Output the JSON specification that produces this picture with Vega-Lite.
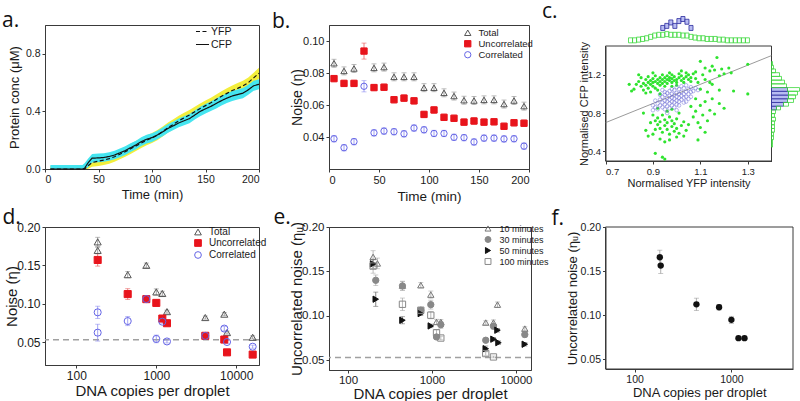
{
"$schema": "https://vega.github.io/schema/vega-lite/v6.json",
"background": "white",
"padding": {"left": 1, "top": 1, "right": 0, "bottom": 0},
"columns": 3,
"spacing": {"row": 58, "column": 70},
"bounds": "flush",
"align": "each",
"resolve": {"scale": {"color": "independent", "fill": "independent", "stroke": "independent", "shape": "independent", "strokeDash": "independent"}},
"config": {
 "font": "Liberation Sans",
 "view": {"stroke": "#3a3a3a", "strokeWidth": 1},
 "axis": {"grid": false, "domainColor": "#3a3a3a", "tickColor": "#3a3a3a", "labelColor": "#1a1a1a", "titleColor": "#1a1a1a", "titleFontWeight": "normal", "tickSize": 3, "labelPadding": 2, "labelFont": "Liberation Sans", "titleFont": "Liberation Sans", "labelOverlap": false},
 "legend": {"labelFont": "Liberation Sans", "labelColor": "#1a1a1a"},
 "title": {"font": "Open Sans", "fontWeight": "normal", "fontSize": 21, "anchor": "start", "frame": "group", "color": "#111", "offset": 0, "baseline": "alphabetic"}
},
"concat": [
{
 "width": 214, "height": 144,
 "title": {"text": "a.", "dx": -43, "dy": 10.5},
 "data": {"values": [
  {"t":5,"CFP":0,"YFP":0,"cLo":0,"cHi":0.028,"yLo":0,"yHi":0.02},
  {"t":10,"CFP":0,"YFP":0,"cLo":0,"cHi":0.028,"yLo":0,"yHi":0.02},
  {"t":20,"CFP":0,"YFP":0,"cLo":0,"cHi":0.028,"yLo":0,"yHi":0.02},
  {"t":30,"CFP":0,"YFP":0,"cLo":0,"cHi":0.028,"yLo":0,"yHi":0.02},
  {"t":35,"CFP":0,"YFP":0,"cLo":0,"cHi":0.028,"yLo":0,"yHi":0.02},
  {"t":37,"CFP":0.005,"YFP":0,"cLo":0,"cHi":0.04,"yLo":0,"yHi":0.03},
  {"t":40,"CFP":0.04,"YFP":0.02,"cLo":0.01,"cHi":0.07,"yLo":0,"yHi":0.055},
  {"t":44,"CFP":0.075,"YFP":0.045,"cLo":0.045,"cHi":0.105,"yLo":0.015,"yHi":0.08},
  {"t":50,"CFP":0.077,"YFP":0.055,"cLo":0.047,"cHi":0.107,"yLo":0.02,"yHi":0.09},
  {"t":55,"CFP":0.08,"YFP":0.062,"cLo":0.05,"cHi":0.11,"yLo":0.027,"yHi":0.097},
  {"t":60,"CFP":0.087,"YFP":0.072,"cLo":0.057,"cHi":0.117,"yLo":0.037,"yHi":0.107},
  {"t":65,"CFP":0.097,"YFP":0.085,"cLo":0.067,"cHi":0.127,"yLo":0.05,"yHi":0.12},
  {"t":70,"CFP":0.112,"YFP":0.103,"cLo":0.082,"cHi":0.142,"yLo":0.068,"yHi":0.138},
  {"t":75,"CFP":0.128,"YFP":0.12,"cLo":0.098,"cHi":0.158,"yLo":0.085,"yHi":0.155},
  {"t":80,"CFP":0.148,"YFP":0.14,"cLo":0.118,"cHi":0.178,"yLo":0.105,"yHi":0.175},
  {"t":85,"CFP":0.167,"YFP":0.16,"cLo":0.137,"cHi":0.197,"yLo":0.125,"yHi":0.195},
  {"t":90,"CFP":0.19,"YFP":0.18,"cLo":0.16,"cHi":0.22,"yLo":0.145,"yHi":0.215},
  {"t":95,"CFP":0.207,"YFP":0.2,"cLo":0.177,"cHi":0.237,"yLo":0.165,"yHi":0.235},
  {"t":100,"CFP":0.218,"YFP":0.215,"cLo":0.188,"cHi":0.248,"yLo":0.18,"yHi":0.25},
  {"t":105,"CFP":0.236,"YFP":0.235,"cLo":0.206,"cHi":0.266,"yLo":0.2,"yHi":0.27},
  {"t":110,"CFP":0.258,"YFP":0.26,"cLo":0.228,"cHi":0.288,"yLo":0.225,"yHi":0.295},
  {"t":115,"CFP":0.282,"YFP":0.288,"cLo":0.252,"cHi":0.312,"yLo":0.253,"yHi":0.323},
  {"t":120,"CFP":0.3,"YFP":0.31,"cLo":0.27,"cHi":0.33,"yLo":0.275,"yHi":0.345},
  {"t":125,"CFP":0.32,"YFP":0.335,"cLo":0.29,"cHi":0.35,"yLo":0.3,"yHi":0.37},
  {"t":130,"CFP":0.335,"YFP":0.355,"cLo":0.303,"cHi":0.367,"yLo":0.32,"yHi":0.39},
  {"t":135,"CFP":0.35,"YFP":0.375,"cLo":0.318,"cHi":0.382,"yLo":0.34,"yHi":0.41},
  {"t":140,"CFP":0.375,"YFP":0.398,"cLo":0.343,"cHi":0.407,"yLo":0.363,"yHi":0.433},
  {"t":145,"CFP":0.4,"YFP":0.42,"cLo":0.367,"cHi":0.433,"yLo":0.385,"yHi":0.455},
  {"t":150,"CFP":0.418,"YFP":0.44,"cLo":0.385,"cHi":0.451,"yLo":0.405,"yHi":0.475},
  {"t":155,"CFP":0.435,"YFP":0.46,"cLo":0.402,"cHi":0.468,"yLo":0.425,"yHi":0.495},
  {"t":160,"CFP":0.455,"YFP":0.483,"cLo":0.421,"cHi":0.489,"yLo":0.448,"yHi":0.518},
  {"t":165,"CFP":0.475,"YFP":0.505,"cLo":0.441,"cHi":0.509,"yLo":0.47,"yHi":0.54},
  {"t":170,"CFP":0.492,"YFP":0.525,"cLo":0.458,"cHi":0.526,"yLo":0.49,"yHi":0.56},
  {"t":175,"CFP":0.507,"YFP":0.545,"cLo":0.472,"cHi":0.542,"yLo":0.51,"yHi":0.58},
  {"t":180,"CFP":0.517,"YFP":0.56,"cLo":0.482,"cHi":0.552,"yLo":0.525,"yHi":0.597},
  {"t":185,"CFP":0.527,"YFP":0.577,"cLo":0.492,"cHi":0.562,"yLo":0.541,"yHi":0.613},
  {"t":190,"CFP":0.55,"YFP":0.6,"cLo":0.515,"cHi":0.585,"yLo":0.564,"yHi":0.636},
  {"t":195,"CFP":0.578,"YFP":0.633,"cLo":0.543,"cHi":0.613,"yLo":0.597,"yHi":0.669},
  {"t":200,"CFP":0.588,"YFP":0.665,"cLo":0.553,"cHi":0.623,"yLo":0.627,"yHi":0.703}
 ]},
 "encoding": {"x": {"field": "t", "type": "quantitative", "scale": {"domain": [0, 200]}, "axis": {"values": [0,50,100,150,200], "title": "Time (min)", "titleFontSize": 13, "labelFontSize": 10.5, "titlePadding": 4}}},
 "layer": [
  {"mark": {"type": "area", "color": "#f3ee3c"}, "encoding": {"y": {"field": "yLo", "type": "quantitative", "scale": {"domain": [0, 1]}, "axis": {"values": [0,0.2,0.4,0.6,0.8,1.0], "format": ".1f", "title": "Protein conc (μM)", "titleFontSize": 13, "labelFontSize": 10.5, "titlePadding": 3.5}}, "y2": {"field": "yHi"}}},
  {"mark": {"type": "area", "color": "#45e5f0"}, "encoding": {"y": {"field": "cLo", "type": "quantitative", "title": "Protein conc (μM)"}, "y2": {"field": "cHi"}}},
  {"transform": [{"fold": ["YFP", "CFP"], "as": ["series", "conc"]}],
   "mark": {"type": "line", "color": "#111", "strokeWidth": 1.2},
   "encoding": {"y": {"field": "conc", "type": "quantitative", "title": "Protein conc (μM)"},
    "strokeDash": {"field": "series", "type": "nominal", "scale": {"domain": ["YFP", "CFP"], "range": [[4, 2.5], [1, 0]]},
     "legend": {"orient": "none", "legendX": 150, "legendY": -1, "title": null, "symbolType": "stroke", "symbolSize": 170, "symbolStrokeColor": "#111", "symbolStrokeWidth": 1.2, "labelFontSize": 10.5, "rowPadding": 0, "labelOffset": 1}}}}
 ]
},
{
 "width": 200, "height": 144,
 "title": {"text": "b.", "dx": -57, "dy": 10.5},
 "data": {"values": [
  {"t":5,"s":"Total","v":0.0861,"lo":0.0836,"hi":0.0886},
  {"t":15,"s":"Total","v":0.0813,"lo":0.0788,"hi":0.0838},
  {"t":25,"s":"Total","v":0.0828,"lo":0.0803,"hi":0.0853},
  {"t":45,"s":"Total","v":0.0832,"lo":0.0807,"hi":0.0857},
  {"t":55,"s":"Total","v":0.0837,"lo":0.0812,"hi":0.0862},
  {"t":65,"s":"Total","v":0.0776,"lo":0.0751,"hi":0.0801},
  {"t":75,"s":"Total","v":0.0776,"lo":0.0751,"hi":0.0801},
  {"t":85,"s":"Total","v":0.0776,"lo":0.0751,"hi":0.0801},
  {"t":95,"s":"Total","v":0.0708,"lo":0.0683,"hi":0.0733},
  {"t":105,"s":"Total","v":0.0708,"lo":0.0683,"hi":0.0733},
  {"t":115,"s":"Total","v":0.0676,"lo":0.0651,"hi":0.0701},
  {"t":125,"s":"Total","v":0.0656,"lo":0.0631,"hi":0.0681},
  {"t":135,"s":"Total","v":0.063,"lo":0.0605,"hi":0.0655},
  {"t":145,"s":"Total","v":0.0628,"lo":0.0603,"hi":0.0653},
  {"t":155,"s":"Total","v":0.0632,"lo":0.0607,"hi":0.0657},
  {"t":165,"s":"Total","v":0.0632,"lo":0.0607,"hi":0.0657},
  {"t":175,"s":"Total","v":0.0606,"lo":0.0581,"hi":0.0631},
  {"t":185,"s":"Total","v":0.0628,"lo":0.0603,"hi":0.0653},
  {"t":195,"s":"Total","v":0.0593,"lo":0.0568,"hi":0.0618},
  {"t":5,"s":"Uncorrelated","v":0.0765,"lo":0.0745,"hi":0.0785},
  {"t":15,"s":"Uncorrelated","v":0.0735,"lo":0.0715,"hi":0.0755},
  {"t":25,"s":"Uncorrelated","v":0.0735,"lo":0.0715,"hi":0.0755},
  {"t":35,"s":"Uncorrelated","v":0.0937,"lo":0.0887,"hi":0.0987},
  {"t":45,"s":"Uncorrelated","v":0.0709,"lo":0.0689,"hi":0.0729},
  {"t":55,"s":"Uncorrelated","v":0.0711,"lo":0.0691,"hi":0.0731},
  {"t":65,"s":"Uncorrelated","v":0.0633,"lo":0.0613,"hi":0.0653},
  {"t":75,"s":"Uncorrelated","v":0.0643,"lo":0.0623,"hi":0.0663},
  {"t":85,"s":"Uncorrelated","v":0.0626,"lo":0.0606,"hi":0.0646},
  {"t":95,"s":"Uncorrelated","v":0.0541,"lo":0.0521,"hi":0.0561},
  {"t":105,"s":"Uncorrelated","v":0.0569,"lo":0.0549,"hi":0.0589},
  {"t":115,"s":"Uncorrelated","v":0.0523,"lo":0.0503,"hi":0.0543},
  {"t":125,"s":"Uncorrelated","v":0.0517,"lo":0.0497,"hi":0.0537},
  {"t":135,"s":"Uncorrelated","v":0.0493,"lo":0.0473,"hi":0.0513},
  {"t":145,"s":"Uncorrelated","v":0.05,"lo":0.048,"hi":0.052},
  {"t":155,"s":"Uncorrelated","v":0.0493,"lo":0.0473,"hi":0.0513},
  {"t":165,"s":"Uncorrelated","v":0.0495,"lo":0.0475,"hi":0.0515},
  {"t":175,"s":"Uncorrelated","v":0.0467,"lo":0.0447,"hi":0.0487},
  {"t":185,"s":"Uncorrelated","v":0.0489,"lo":0.0469,"hi":0.0509},
  {"t":195,"s":"Uncorrelated","v":0.0486,"lo":0.0466,"hi":0.0506},
  {"t":5,"s":"Correlated","v":0.0389,"lo":0.0369,"hi":0.0409},
  {"t":15,"s":"Correlated","v":0.0333,"lo":0.0313,"hi":0.0353},
  {"t":25,"s":"Correlated","v":0.0371,"lo":0.0351,"hi":0.0391},
  {"t":35,"s":"Correlated","v":0.0717,"lo":0.0682,"hi":0.0752},
  {"t":45,"s":"Correlated","v":0.0426,"lo":0.0406,"hi":0.0446},
  {"t":55,"s":"Correlated","v":0.0437,"lo":0.0417,"hi":0.0457},
  {"t":65,"s":"Correlated","v":0.0433,"lo":0.0413,"hi":0.0453},
  {"t":75,"s":"Correlated","v":0.042,"lo":0.04,"hi":0.044},
  {"t":85,"s":"Correlated","v":0.0456,"lo":0.0436,"hi":0.0476},
  {"t":95,"s":"Correlated","v":0.0445,"lo":0.0425,"hi":0.0465},
  {"t":105,"s":"Correlated","v":0.0422,"lo":0.0402,"hi":0.0442},
  {"t":115,"s":"Correlated","v":0.0422,"lo":0.0402,"hi":0.0442},
  {"t":125,"s":"Correlated","v":0.0398,"lo":0.0378,"hi":0.0418},
  {"t":135,"s":"Correlated","v":0.0396,"lo":0.0376,"hi":0.0416},
  {"t":145,"s":"Correlated","v":0.0369,"lo":0.0349,"hi":0.0389},
  {"t":155,"s":"Correlated","v":0.0393,"lo":0.0373,"hi":0.0413},
  {"t":165,"s":"Correlated","v":0.0393,"lo":0.0373,"hi":0.0413},
  {"t":175,"s":"Correlated","v":0.0388,"lo":0.0368,"hi":0.0408},
  {"t":185,"s":"Correlated","v":0.0389,"lo":0.0369,"hi":0.0409},
  {"t":195,"s":"Correlated","v":0.0343,"lo":0.0323,"hi":0.0363}
 ]},
 "encoding": {"x": {"field": "t", "type": "quantitative", "scale": {"domain": [0, 200]}, "axis": {"values": [0,50,100,150,200], "title": "Time (min)", "titleFontSize": 13.5, "labelFontSize": 11, "titlePadding": 4}}},
 "layer": [
  {"mark": {"type": "errorbar", "ticks": true, "thickness": 0.8},
   "encoding": {"y": {"field": "lo", "type": "quantitative", "scale": {"domain": [0.025, 0.105]}, "axis": {"values": [0.04, 0.06, 0.08, 0.10], "format": ".2f", "title": "Noise (η)", "titleFontSize": 14, "labelFontSize": 11, "titlePadding": -2}},
    "y2": {"field": "hi"},
    "color": {"field": "s", "type": "nominal", "scale": {"domain": ["Correlated", "Total", "Uncorrelated"], "range": ["#8c8cef", "#8a8a8a", "#e85a5a"]}, "legend": null}}},
  {"mark": {"type": "point", "size": 40, "strokeWidth": 1, "opacity": 1},
   "encoding": {"y": {"field": "v", "type": "quantitative", "title": "Noise (η)"},
    "shape": {"field": "s", "type": "nominal", "scale": {"domain": ["Total", "Uncorrelated", "Correlated"], "range": ["triangle-up", "square", "circle"]}, "legend": {"orient": "none", "legendX": 134, "legendY": 3, "title": null, "labelFontSize": 9.5, "symbolSize": 40, "rowPadding": 0, "labelOffset": 6, "symbolStrokeWidth": 1}},
    "stroke": {"field": "s", "type": "nominal", "scale": {"domain": ["Total", "Uncorrelated", "Correlated"], "range": ["#555555", "#e8141c", "#6565e6"]}, "legend": {"orient": "none", "legendX": 134, "legendY": 3, "title": null, "labelFontSize": 9.5, "symbolSize": 40, "rowPadding": 0, "labelOffset": 6, "symbolStrokeWidth": 1}},
    "fill": {"field": "s", "type": "nominal", "scale": {"domain": ["Total", "Uncorrelated", "Correlated"], "range": ["transparent", "#e8141c", "transparent"]}, "legend": {"orient": "none", "legendX": 134, "legendY": 3, "title": null, "labelFontSize": 9.5, "symbolSize": 40, "rowPadding": 0, "labelOffset": 6, "symbolStrokeWidth": 1}}}}
 ]
},
{
 "width": 170.5, "height": 136,
 "view": {"stroke": null},
 "title": {"text": "c.", "dx": -59, "dy": 10},
 "resolve": {"scale": {"x": "independent", "y": "independent"}},
 "layer": [
  {"layer": [
    {"data": {"values": [{"x0": 0.7, "x1": 1.4, "y0": 0.3, "y1": 1.5}]},
     "mark": {"type": "rect", "fillOpacity": 0, "stroke": "#3a3a3a", "strokeWidth": 1},
     "encoding": {"x": {"field": "x0", "type": "quantitative", "scale": {"domain": [0.7, 1.4], "range": [4.5, 170.5], "zero": false, "nice": false}, "axis": {"values": [0.7,0.8,0.9,1.0,1.1,1.2,1.3,1.4], "format": ".1f", "title": "Normalised YFP intensity", "titleFontSize": 11, "labelFontSize": 9.5, "labelOverlap": false, "titlePadding": 2}},
      "x2": {"field": "x1"},
      "y": {"field": "y0", "type": "quantitative", "scale": {"domain": [0.3, 1.5], "range": [136, 21], "zero": false, "nice": false}, "axis": {"values": [0.4,0.6,0.8,1.0,1.2,1.4], "format": ".1f", "offset": -4.5, "title": "Normalised CFP intensity", "titleFontSize": 11, "labelFontSize": 9.5, "titlePadding": -2, "labelOverlap": false}},
      "y2": {"field": "y1"}}},
    {"data": {"values": [{"x": 0.7, "y": 0.7}, {"x": 1.4, "y": 1.4}]},
     "mark": {"type": "line", "color": "#808080", "strokeWidth": 0.8},
     "encoding": {"x": {"field": "x", "type": "quantitative", "title": "Normalised YFP intensity"}, "y": {"field": "y", "type": "quantitative", "title": "Normalised CFP intensity"}}},
    {"data": {"values": [
      {"x":0.82,"y":1.05},{"x":0.83,"y":1.10},{"x":0.84,"y":1.13},{"x":0.85,"y":1.08},{"x":0.85,"y":1.17},{"x":0.86,"y":1.11},{"x":0.86,"y":1.04},{"x":0.87,"y":1.15},{"x":0.87,"y":1.09},{"x":0.88,"y":1.12},
      {"x":0.88,"y":1.18},{"x":0.88,"y":1.06},{"x":0.89,"y":1.14},{"x":0.89,"y":1.10},{"x":0.90,"y":1.16},{"x":0.90,"y":1.12},{"x":0.90,"y":1.08},{"x":0.91,"y":1.19},{"x":0.91,"y":1.13},{"x":0.91,"y":1.06},
      {"x":0.92,"y":1.15},{"x":0.92,"y":1.11},{"x":0.93,"y":1.17},{"x":0.93,"y":1.13},{"x":0.93,"y":1.09},{"x":0.94,"y":1.20},{"x":0.94,"y":1.15},{"x":0.94,"y":1.11},{"x":0.95,"y":1.13},{"x":0.95,"y":1.17},
      {"x":0.96,"y":1.15},{"x":0.96,"y":1.11},{"x":0.96,"y":1.19},{"x":0.97,"y":1.14},{"x":0.97,"y":1.17},{"x":0.98,"y":1.12},{"x":0.98,"y":1.16},{"x":0.98,"y":1.20},{"x":0.99,"y":1.14},{"x":0.99,"y":1.18},
      {"x":1.00,"y":1.15},{"x":1.00,"y":1.12},{"x":1.01,"y":1.17},{"x":1.01,"y":1.21},{"x":1.02,"y":1.14},{"x":1.02,"y":1.19},{"x":1.03,"y":1.16},{"x":1.03,"y":1.12},{"x":1.04,"y":1.18},{"x":1.04,"y":1.22},
      {"x":1.05,"y":1.15},{"x":1.05,"y":1.20},{"x":1.06,"y":1.17},{"x":1.06,"y":1.13},{"x":1.07,"y":1.21},{"x":1.08,"y":1.16},{"x":0.89,"y":1.02},{"x":0.87,"y":1.01},{"x":0.92,"y":1.04},{"x":0.84,"y":1.20},
      {"x":0.80,"y":1.10},{"x":0.81,"y":1.03},{"x":0.86,"y":0.80},{"x":0.95,"y":1.08},{"x":1.00,"y":1.09},{"x":0.97,"y":1.22},{"x":1.02,"y":1.24},{"x":0.90,"y":1.22},{"x":0.93,"y":1.00},{"x":0.98,"y":1.08},
      {"x":1.08,"y":1.23},{"x":1.09,"y":1.12},{"x":1.10,"y":1.34},{"x":1.10,"y":1.05},{"x":1.11,"y":1.20},{"x":1.12,"y":1.27},{"x":1.12,"y":1.15},{"x":1.13,"y":1.02},{"x":1.14,"y":1.24},{"x":1.15,"y":1.29},
      {"x":1.15,"y":1.10},{"x":1.16,"y":1.25},{"x":1.17,"y":1.38},{"x":1.18,"y":1.19},{"x":1.18,"y":1.04},{"x":1.19,"y":1.26},{"x":1.20,"y":1.21},{"x":1.22,"y":1.27},{"x":1.23,"y":1.22},{"x":1.24,"y":1.03},
      {"x":1.30,"y":1.00},{"x":1.30,"y":1.31},{"x":1.08,"y":0.95},{"x":1.10,"y":0.88},{"x":1.12,"y":0.92},{"x":1.14,"y":0.83},{"x":1.15,"y":0.95},{"x":1.16,"y":0.79},{"x":1.13,"y":0.72},{"x":1.11,"y":0.78},
      {"x":1.09,"y":0.70},{"x":1.10,"y":0.65},{"x":1.08,"y":0.82},{"x":1.06,"y":0.87},{"x":1.07,"y":0.76},{"x":1.05,"y":0.68},{"x":1.12,"y":0.60},{"x":1.09,"y":0.52},{"x":1.04,"y":0.62},{"x":1.18,"y":0.90},
      {"x":1.20,"y":0.85},{"x":1.14,"y":1.12},
      {"x":0.90,"y":0.78},{"x":0.91,"y":0.72},{"x":0.92,"y":0.68},{"x":0.92,"y":0.75},{"x":0.93,"y":0.64},{"x":0.93,"y":0.71},{"x":0.94,"y":0.78},{"x":0.94,"y":0.60},{"x":0.95,"y":0.67},{"x":0.95,"y":0.73},
      {"x":0.96,"y":0.70},{"x":0.96,"y":0.63},{"x":0.97,"y":0.76},{"x":0.97,"y":0.58},{"x":0.98,"y":0.66},{"x":0.98,"y":0.72},{"x":0.99,"y":0.61},{"x":0.99,"y":0.69},{"x":1.00,"y":0.64},{"x":1.00,"y":0.74},
      {"x":1.01,"y":0.59},{"x":1.02,"y":0.67},{"x":1.03,"y":0.71},{"x":1.03,"y":0.56},{"x":0.91,"y":0.63},{"x":0.89,"y":0.70},{"x":0.90,"y":0.58},{"x":0.88,"y":0.56},{"x":0.93,"y":0.53},{"x":0.95,"y":0.50},
      {"x":0.97,"y":0.52},{"x":1.00,"y":0.55},{"x":0.96,"y":0.82},{"x":0.98,"y":0.84},{"x":1.01,"y":0.80},{"x":0.91,"y":0.38},{"x":0.94,"y":0.34},{"x":0.95,"y":0.32},{"x":0.87,"y":0.62},{"x":0.92,"y":0.85}
     ]},
     "mark": {"type": "circle", "size": 10, "color": "#2fe32f", "opacity": 1},
     "encoding": {"x": {"field": "x", "type": "quantitative", "title": "Normalised YFP intensity"}, "y": {"field": "y", "type": "quantitative", "title": "Normalised CFP intensity"}}},
    {"data": {"values": [
      {"x":0.90,"y":0.83},{"x":0.91,"y":0.86},{"x":0.92,"y":0.84},{"x":0.92,"y":0.90},{"x":0.93,"y":0.88},{"x":0.93,"y":0.94},{"x":0.94,"y":0.86},{"x":0.94,"y":0.91},{"x":0.94,"y":0.97},{"x":0.95,"y":0.89},
      {"x":0.95,"y":0.93},{"x":0.95,"y":0.99},{"x":0.96,"y":0.87},{"x":0.96,"y":0.92},{"x":0.96,"y":0.96},{"x":0.96,"y":1.01},{"x":0.97,"y":0.90},{"x":0.97,"y":0.94},{"x":0.97,"y":0.98},{"x":0.97,"y":1.03},
      {"x":0.98,"y":0.88},{"x":0.98,"y":0.92},{"x":0.98,"y":0.96},{"x":0.98,"y":1.00},{"x":0.99,"y":0.91},{"x":0.99,"y":0.95},{"x":0.99,"y":0.99},{"x":0.99,"y":1.04},{"x":1.00,"y":0.89},{"x":1.00,"y":0.93},
      {"x":1.00,"y":0.97},{"x":1.00,"y":1.01},{"x":1.01,"y":0.92},{"x":1.01,"y":0.96},{"x":1.01,"y":1.00},{"x":1.01,"y":1.05},{"x":1.02,"y":0.94},{"x":1.02,"y":0.98},{"x":1.02,"y":1.02},{"x":1.03,"y":0.91},
      {"x":1.03,"y":0.96},{"x":1.03,"y":1.00},{"x":1.03,"y":1.06},{"x":1.04,"y":0.97},{"x":1.04,"y":1.02},{"x":1.05,"y":0.95},{"x":1.05,"y":1.00},{"x":1.05,"y":1.05},{"x":1.06,"y":1.02},{"x":1.06,"y":1.07},
      {"x":1.07,"y":1.03},{"x":1.08,"y":1.06},{"x":0.95,"y":0.84},{"x":0.97,"y":0.85},{"x":0.99,"y":0.86},{"x":1.01,"y":0.88},{"x":0.93,"y":0.99},{"x":0.95,"y":1.02},{"x":0.98,"y":1.05},{"x":1.00,"y":1.07},
      {"x":1.02,"y":1.08},{"x":0.91,"y":0.93},{"x":0.90,"y":0.88},{"x":1.04,"y":0.92},{"x":1.06,"y":0.97},{"x":1.09,"y":1.04},{"x":0.96,"y":0.80},{"x":1.00,"y":0.83},{"x":0.94,"y":1.04},{"x":1.04,"y":1.09}
     ]},
     "mark": {"type": "point", "shape": "circle", "size": 13, "color": "#6a6ad6", "strokeWidth": 0.7, "filled": false},
     "encoding": {"x": {"field": "x", "type": "quantitative", "title": "Normalised YFP intensity"}, "y": {"field": "y", "type": "quantitative", "title": "Normalised CFP intensity"}}}
  ]},
  {"data": {"values": [
    {"x0":0.933,"x1":0.95,"n":19,"g":"B"},{"x0":0.95,"x1":0.967,"n":22,"g":"B"},{"x0":0.967,"x1":0.984,"n":27,"g":"B"},{"x0":0.984,"x1":1.001,"n":22,"g":"B"},
    {"x0":1.001,"x1":1.018,"n":29,"g":"B"},{"x0":1.018,"x1":1.035,"n":32,"g":"B"},{"x0":1.035,"x1":1.052,"n":28,"g":"B"},{"x0":1.052,"x1":1.069,"n":19,"g":"B"},
    {"x0":0.797,"x1":0.814,"n":1,"g":"G"},{"x0":0.814,"x1":0.831,"n":1,"g":"G"},{"x0":0.831,"x1":0.848,"n":2,"g":"G"},{"x0":0.848,"x1":0.865,"n":3,"g":"G"},
    {"x0":0.865,"x1":0.882,"n":4,"g":"G"},{"x0":0.882,"x1":0.899,"n":6,"g":"G"},{"x0":0.899,"x1":0.916,"n":8,"g":"G"},{"x0":0.916,"x1":0.933,"n":9,"g":"G"},
    {"x0":0.933,"x1":0.95,"n":9,"g":"G"},{"x0":0.95,"x1":0.967,"n":10,"g":"G"},{"x0":0.967,"x1":0.984,"n":9,"g":"G"},{"x0":0.984,"x1":1.001,"n":9,"g":"G"},
    {"x0":1.001,"x1":1.018,"n":9,"g":"G"},{"x0":1.018,"x1":1.035,"n":8,"g":"G"},{"x0":1.035,"x1":1.052,"n":8,"g":"G"},{"x0":1.052,"x1":1.069,"n":6,"g":"G"},
    {"x0":1.069,"x1":1.086,"n":5,"g":"G"},{"x0":1.086,"x1":1.103,"n":4,"g":"G"},{"x0":1.103,"x1":1.12,"n":4,"g":"G"},{"x0":1.12,"x1":1.137,"n":3,"g":"G"},
    {"x0":1.137,"x1":1.154,"n":3,"g":"G"},{"x0":1.154,"x1":1.171,"n":3,"g":"G"},{"x0":1.171,"x1":1.188,"n":2,"g":"G"},{"x0":1.188,"x1":1.205,"n":2,"g":"G"},
    {"x0":1.205,"x1":1.222,"n":1,"g":"G"},{"x0":1.222,"x1":1.239,"n":1,"g":"G"},{"x0":1.239,"x1":1.256,"n":1,"g":"G"},{"x0":1.256,"x1":1.273,"n":1,"g":"G"},
    {"x0":1.273,"x1":1.29,"n":1,"g":"G"},{"x0":1.29,"x1":1.307,"n":1,"g":"G"}
   ]},
   "mark": {"type": "bar", "strokeWidth": 0.8},
   "encoding": {"x": {"field": "x0", "type": "quantitative", "scale": {"domain": [0.7, 1.4], "range": [4.5, 170.5], "zero": false, "nice": false}, "axis": null},
    "x2": {"field": "x1"},
    "y": {"field": "n", "type": "quantitative", "scale": {"domain": [0, 32], "range": [21, -11]}, "axis": null},
    "fill": {"field": "g", "type": "nominal", "scale": {"domain": ["B", "G"], "range": ["#b7bbf2", "transparent"]}, "legend": null},
    "stroke": {"field": "g", "type": "nominal", "scale": {"domain": ["B", "G"], "range": ["#2b2b9e", "#3cd83c"]}, "legend": null}}},
  {"data": {"values": [
    {"y0":0.827,"y1":0.8695,"n":5,"g":"B"},{"y0":0.8695,"y1":0.912,"n":12,"g":"B"},{"y0":0.912,"y1":0.9545,"n":16,"g":"B"},{"y0":0.9545,"y1":0.997,"n":17,"g":"B"},{"y0":0.997,"y1":1.0395,"n":17,"g":"B"},{"y0":1.0395,"y1":1.082,"n":16,"g":"B"},
    {"y0":0.402,"y1":0.4445,"n":1,"g":"G"},{"y0":0.4445,"y1":0.487,"n":1,"g":"G"},{"y0":0.487,"y1":0.5295,"n":2,"g":"G"},{"y0":0.5295,"y1":0.572,"n":2,"g":"G"},
    {"y0":0.572,"y1":0.6145,"n":3,"g":"G"},{"y0":0.6145,"y1":0.657,"n":3,"g":"G"},{"y0":0.657,"y1":0.6995,"n":3,"g":"G"},{"y0":0.6995,"y1":0.742,"n":4,"g":"G"},
    {"y0":0.742,"y1":0.7845,"n":3,"g":"G"},{"y0":0.7845,"y1":0.827,"n":4,"g":"G"},{"y0":0.827,"y1":0.8695,"n":4,"g":"G"},{"y0":0.8695,"y1":0.912,"n":5,"g":"G"},
    {"y0":0.912,"y1":0.9545,"n":6,"g":"G"},{"y0":0.9545,"y1":0.997,"n":7,"g":"G"},{"y0":0.997,"y1":1.0395,"n":9,"g":"G"},{"y0":1.0395,"y1":1.082,"n":12,"g":"G"},
    {"y0":1.082,"y1":1.1245,"n":15,"g":"G"},{"y0":1.1245,"y1":1.167,"n":13,"g":"G"},{"y0":1.167,"y1":1.2095,"n":10,"g":"G"},{"y0":1.2095,"y1":1.252,"n":8,"g":"G"},
    {"y0":1.252,"y1":1.2945,"n":4,"g":"G"},{"y0":1.2945,"y1":1.337,"n":2,"g":"G"},{"y0":1.337,"y1":1.3795,"n":1,"g":"G"}
   ]},
   "mark": {"type": "bar", "strokeWidth": 0.8, "orient": "horizontal"},
   "encoding": {"y": {"field": "y0", "type": "quantitative", "scale": {"domain": [0.3, 1.5], "range": [136, 21], "zero": false, "nice": false}, "axis": null},
    "y2": {"field": "y1"},
    "x": {"field": "n", "type": "quantitative", "scale": {"domain": [0, 18], "range": [170.5, 188.5]}, "axis": null},
    "fill": {"field": "g", "type": "nominal", "scale": {"domain": ["B", "G"], "range": ["#b7bbf2", "transparent"]}, "legend": null},
    "stroke": {"field": "g", "type": "nominal", "scale": {"domain": ["B", "G"], "range": ["#2b2b9e", "#3cd83c"]}, "legend": null}}}
 ]
},
{
 "width": 214, "height": 138,
 "title": {"text": "d.", "dx": -42.5, "dy": 10.5},
 "layer": [
  {"data": {"values": [{"y": 0.053}]},
   "mark": {"type": "rule", "color": "#a0a0a0", "strokeDash": [6, 4], "strokeWidth": 1.5},
   "encoding": {"y": {"field": "y", "type": "quantitative", "scale": {"domain": [0.03, 0.2]}, "axis": {"values": [0.05, 0.10, 0.15, 0.20], "format": ".2f", "title": "Noise (η)", "titleFontSize": 15, "labelFontSize": 12, "titlePadding": -3}}}},
  {"data": {"name": "dd", "values": [
    {"x":185,"s":"Total","v":0.1806,"lo":0.1746,"hi":0.1866},
    {"x":185,"s":"Total","v":0.1695,"lo":0.1655,"hi":0.1735},
    {"x":439,"s":"Total","v":0.1378,"lo":0.1338,"hi":0.1418},
    {"x":750,"s":"Total","v":0.150,"lo":0.147,"hi":0.153},
    {"x":1000,"s":"Total","v":0.1153,"lo":0.1113,"hi":0.1193},
    {"x":1189,"s":"Total","v":0.1133,"lo":0.1103,"hi":0.1163},
    {"x":1360,"s":"Total","v":0.0896,"lo":0.0876,"hi":0.0916},
    {"x":4096,"s":"Total","v":0.0819,"lo":0.0799,"hi":0.0839},
    {"x":7080,"s":"Total","v":0.0863,"lo":0.0843,"hi":0.0883},
    {"x":7660,"s":"Total","v":0.0623,"lo":0.0603,"hi":0.0643},
    {"x":16030,"s":"Total","v":0.0561,"lo":0.0541,"hi":0.0581},
    {"x":185,"s":"Uncorrelated","v":0.157,"lo":0.149,"hi":0.165},
    {"x":439,"s":"Uncorrelated","v":0.1125,"lo":0.1055,"hi":0.1195},
    {"x":750,"s":"Uncorrelated","v":0.1059,"lo":0.1039,"hi":0.1079},
    {"x":1000,"s":"Uncorrelated","v":0.101,"lo":0.097,"hi":0.105},
    {"x":1189,"s":"Uncorrelated","v":0.0806,"lo":0.0776,"hi":0.0836},
    {"x":1360,"s":"Uncorrelated","v":0.0745,"lo":0.0725,"hi":0.0765},
    {"x":4096,"s":"Uncorrelated","v":0.0581,"lo":0.0561,"hi":0.0601},
    {"x":7080,"s":"Uncorrelated","v":0.0532,"lo":0.0512,"hi":0.0552},
    {"x":7660,"s":"Uncorrelated","v":0.0365,"lo":0.0355,"hi":0.0375},
    {"x":16030,"s":"Uncorrelated","v":0.0336,"lo":0.0326,"hi":0.0346},
    {"x":185,"s":"Correlated","v":0.0887,"lo":0.0807,"hi":0.0967},
    {"x":185,"s":"Correlated","v":0.0622,"lo":0.0512,"hi":0.0732},
    {"x":439,"s":"Correlated","v":0.0773,"lo":0.0713,"hi":0.0833},
    {"x":750,"s":"Correlated","v":0.106,"lo":0.104,"hi":0.108},
    {"x":1000,"s":"Correlated","v":0.054,"lo":0.049,"hi":0.059},
    {"x":1189,"s":"Correlated","v":0.0765,"lo":0.0745,"hi":0.0785},
    {"x":1360,"s":"Correlated","v":0.0507,"lo":0.0487,"hi":0.0527},
    {"x":4096,"s":"Correlated","v":0.058,"lo":0.056,"hi":0.06},
    {"x":7080,"s":"Correlated","v":0.0675,"lo":0.0645,"hi":0.0705},
    {"x":7660,"s":"Correlated","v":0.05,"lo":0.048,"hi":0.052},
    {"x":16030,"s":"Correlated","v":0.0439,"lo":0.0419,"hi":0.0459}
   ]},
   "mark": {"type": "errorbar", "ticks": true, "thickness": 0.8},
   "encoding": {"x": {"field": "x", "type": "quantitative", "scale": {"type": "log", "domain": [40.6, 19230], "nice": false}, "axis": {"values": [100, 1000, 10000], "format": "d", "title": "DNA copies per droplet", "titleFontSize": 15, "labelFontSize": 12, "titlePadding": 2}},
    "y": {"field": "lo", "type": "quantitative", "title": "Noise (η)"}, "y2": {"field": "hi"},
    "color": {"field": "s", "type": "nominal", "scale": {"domain": ["Correlated", "Total", "Uncorrelated"], "range": ["#8c8cef", "#8a8a8a", "#e85a5a"]}, "legend": null}}},
  {"data": {"name": "dd"},
   "mark": {"type": "point", "size": 50, "strokeWidth": 1, "opacity": 1},
   "encoding": {"x": {"field": "x", "type": "quantitative", "title": "DNA copies per droplet"},
    "y": {"field": "v", "type": "quantitative", "title": "Noise (η)"},
    "shape": {"field": "s", "type": "nominal", "scale": {"domain": ["Total", "Uncorrelated", "Correlated"], "range": ["triangle-up", "square", "circle"]}, "legend": {"orient": "none", "legendX": 148, "legendY": 0, "title": null, "labelFontSize": 10, "symbolSize": 45, "rowPadding": 0, "labelOffset": 6, "symbolStrokeWidth": 1}},
    "stroke": {"field": "s", "type": "nominal", "scale": {"domain": ["Total", "Uncorrelated", "Correlated"], "range": ["#555555", "#e8141c", "#6565e6"]}, "legend": {"orient": "none", "legendX": 148, "legendY": 0, "title": null, "labelFontSize": 10, "symbolSize": 45, "rowPadding": 0, "labelOffset": 6, "symbolStrokeWidth": 1}},
    "fill": {"field": "s", "type": "nominal", "scale": {"domain": ["Total", "Uncorrelated", "Correlated"], "range": ["transparent", "#e8141c", "transparent"]}, "legend": {"orient": "none", "legendX": 148, "legendY": 0, "title": null, "labelFontSize": 10, "symbolSize": 45, "rowPadding": 0, "labelOffset": 6, "symbolStrokeWidth": 1}}}}
 ]
},
{
 "width": 202, "height": 143,
 "title": {"text": "e.", "dx": -55.5, "dy": 10.5},
 "layer": [
  {"data": {"values": [{"y": 0.053}]},
   "mark": {"type": "rule", "color": "#a0a0a0", "strokeDash": [6, 4], "strokeWidth": 1.5},
   "encoding": {"y": {"field": "y", "type": "quantitative", "scale": {"domain": [0.039, 0.2], "nice": false, "zero": false}, "axis": {"values": [0.05, 0.10, 0.15, 0.20], "format": ".2f", "title": "Uncorrelated noise (ηᵤ)", "titleFontSize": 15, "labelFontSize": 11.5, "titlePadding": -3}}}},
  {"data": {"name": "ee", "values": [
    {"x":199,"s":"10 minutes","v":0.1663,"lo":0.1593,"hi":0.1733},
    {"x":224,"s":"10 minutes","v":0.159,"lo":0.153,"hi":0.165},
    {"x":445,"s":"10 minutes","v":0.134,"lo":0.129,"hi":0.139},
    {"x":736,"s":"10 minutes","v":0.1345,"lo":0.1315,"hi":0.1375},
    {"x":968,"s":"10 minutes","v":0.1239,"lo":0.1199,"hi":0.1279},
    {"x":1132,"s":"10 minutes","v":0.0931,"lo":0.0901,"hi":0.0961},
    {"x":1274,"s":"10 minutes","v":0.093,"lo":0.09,"hi":0.096},
    {"x":4365,"s":"10 minutes","v":0.0924,"lo":0.0904,"hi":0.0944},
    {"x":5395,"s":"10 minutes","v":0.0924,"lo":0.0894,"hi":0.0954},
    {"x":6025,"s":"10 minutes","v":0.1126,"lo":0.1096,"hi":0.1156},
    {"x":12740,"s":"10 minutes","v":0.0856,"lo":0.0836,"hi":0.0876},
    {"x":214,"s":"30 minutes","v":0.14,"lo":0.134,"hi":0.146},
    {"x":445,"s":"30 minutes","v":0.1337,"lo":0.1287,"hi":0.1387},
    {"x":736,"s":"30 minutes","v":0.1063,"lo":0.1033,"hi":0.1093},
    {"x":968,"s":"30 minutes","v":0.1126,"lo":0.1076,"hi":0.1176},
    {"x":1132,"s":"30 minutes","v":0.0762,"lo":0.0742,"hi":0.0782},
    {"x":1274,"s":"30 minutes","v":0.09,"lo":0.086,"hi":0.094},
    {"x":4365,"s":"30 minutes","v":0.0725,"lo":0.0705,"hi":0.0745},
    {"x":5395,"s":"30 minutes","v":0.0883,"lo":0.0853,"hi":0.0913},
    {"x":12740,"s":"30 minutes","v":0.0789,"lo":0.0759,"hi":0.0819},
    {"x":199,"s":"50 minutes","v":0.1585,"lo":0.1535,"hi":0.1635},
    {"x":214,"s":"50 minutes","v":0.1187,"lo":0.1107,"hi":0.1267},
    {"x":445,"s":"50 minutes","v":0.095,"lo":0.091,"hi":0.099},
    {"x":736,"s":"50 minutes","v":0.1025,"lo":0.1005,"hi":0.1045},
    {"x":968,"s":"50 minutes","v":0.0886,"lo":0.0866,"hi":0.0906},
    {"x":4365,"s":"50 minutes","v":0.063,"lo":0.06,"hi":0.066},
    {"x":5395,"s":"50 minutes","v":0.0737,"lo":0.0717,"hi":0.0757},
    {"x":6025,"s":"50 minutes","v":0.0838,"lo":0.0818,"hi":0.0858},
    {"x":6190,"s":"50 minutes","v":0.0698,"lo":0.0678,"hi":0.0718},
    {"x":12740,"s":"50 minutes","v":0.068,"lo":0.066,"hi":0.07},
    {"x":199,"s":"100 minutes","v":0.156,"lo":0.148,"hi":0.164},
    {"x":445,"s":"100 minutes","v":0.113,"lo":0.106,"hi":0.12},
    {"x":736,"s":"100 minutes","v":0.1063,"lo":0.1033,"hi":0.1093},
    {"x":968,"s":"100 minutes","v":0.1007,"lo":0.0967,"hi":0.1047},
    {"x":1132,"s":"100 minutes","v":0.081,"lo":0.078,"hi":0.084},
    {"x":1274,"s":"100 minutes","v":0.075,"lo":0.073,"hi":0.077},
    {"x":4365,"s":"100 minutes","v":0.0575,"lo":0.0555,"hi":0.0595},
    {"x":5395,"s":"100 minutes","v":0.0537,"lo":0.0527,"hi":0.0547}
   ]},
   "mark": {"type": "errorbar", "ticks": true, "thickness": 0.8},
   "encoding": {"x": {"field": "x", "type": "quantitative", "scale": {"type": "log", "domain": [59.4, 15100], "nice": false}, "axis": {"values": [100, 1000, 10000], "format": "d", "title": "DNA copies per droplet", "titleFontSize": 15, "labelFontSize": 11.5, "titlePadding": 0.5, "labelPadding": 1.5}},
    "y": {"field": "lo", "type": "quantitative", "title": "Uncorrelated noise (ηᵤ)"}, "y2": {"field": "hi"},
    "color": {"field": "s", "type": "nominal", "scale": {"domain": ["100 minutes", "10 minutes", "30 minutes", "50 minutes"], "range": ["#a8a8a8", "#a8a8a8", "#a8a8a8", "#666666"]}, "legend": null}}},
  {"data": {"name": "ee"},
   "mark": {"type": "point", "size": 40, "strokeWidth": 1, "opacity": 1},
   "encoding": {"x": {"field": "x", "type": "quantitative", "title": "DNA copies per droplet"},
    "y": {"field": "v", "type": "quantitative", "title": "Uncorrelated noise (ηᵤ)"},
    "shape": {"field": "s", "type": "nominal", "scale": {"domain": ["10 minutes", "30 minutes", "50 minutes", "100 minutes"], "range": ["triangle-up", "circle", "triangle-right", "square"]}, "legend": {"orient": "none", "legendX": 154.5, "legendY": -3, "title": null, "labelFontSize": 9, "symbolSize": 35, "rowPadding": 0, "labelOffset": 7, "symbolStrokeWidth": 1}},
    "stroke": {"field": "s", "type": "nominal", "scale": {"domain": ["10 minutes", "30 minutes", "50 minutes", "100 minutes"], "range": ["#777777", "#888888", "#111111", "#888888"]}, "legend": {"orient": "none", "legendX": 154.5, "legendY": -3, "title": null, "labelFontSize": 9, "symbolSize": 35, "rowPadding": 0, "labelOffset": 7, "symbolStrokeWidth": 1}},
    "fill": {"field": "s", "type": "nominal", "scale": {"domain": ["10 minutes", "30 minutes", "50 minutes", "100 minutes"], "range": ["transparent", "#888888", "#111111", "transparent"]}, "legend": {"orient": "none", "legendX": 154.5, "legendY": -3, "title": null, "labelFontSize": 9, "symbolSize": 35, "rowPadding": 0, "labelOffset": 7, "symbolStrokeWidth": 1}}}}
 ]
},
{
 "width": 192, "height": 142,
 "view": {"stroke": null},
 "title": {"text": "f.", "dx": -49.5, "dy": 10.5},
 "layer": [
  {"data": {"values": [{"x0": 50, "x1": 4330, "y0": 0.039, "y1": 0.2}]},
   "mark": {"type": "rect", "fillOpacity": 0, "stroke": "#3a3a3a", "strokeWidth": 1},
   "encoding": {"x": {"field": "x0", "type": "quantitative", "scale": {"type": "log", "domain": [50, 4330], "range": [4.5, 192], "nice": false}, "axis": {"values": [100, 1000], "format": "d", "title": "DNA copies per droplet", "titleFontSize": 13, "labelFontSize": 10.5, "titlePadding": 1.5}},
    "x2": {"field": "x1"},
    "y": {"field": "y0", "type": "quantitative", "scale": {"domain": [0.039, 0.2], "nice": false, "zero": false}, "axis": {"values": [0.05, 0.10, 0.15, 0.20], "format": ".2f", "offset": -4.5, "title": "Uncorrelated noise (ηᵤ)", "titleFontSize": 13, "labelFontSize": 10.5, "titlePadding": 0.5}},
    "y2": {"field": "y1"}}},
  {"data": {"name": "ff", "values": [
    {"x":182,"v":0.1657,"lo":0.1577,"hi":0.1737},
    {"x":186,"v":0.1563,"lo":0.1473,"hi":0.1653},
    {"x":435,"v":0.1123,"lo":0.1053,"hi":0.1193},
    {"x":746,"v":0.109,"lo":0.106,"hi":0.112},
    {"x":1000,"v":0.0947,"lo":0.0907,"hi":0.0987},
    {"x":1183,"v":0.074,"lo":0.072,"hi":0.076},
    {"x":1365,"v":0.074,"lo":0.072,"hi":0.076}
   ]},
   "mark": {"type": "errorbar", "ticks": true, "thickness": 0.8, "color": "#9a9a9a"},
   "encoding": {"x": {"field": "x", "type": "quantitative", "title": "DNA copies per droplet"},
    "y": {"field": "lo", "type": "quantitative", "title": "Uncorrelated noise (ηᵤ)"}, "y2": {"field": "hi"}}},
  {"data": {"name": "ff"},
   "mark": {"type": "circle", "size": 40, "color": "#111111", "opacity": 1},
   "encoding": {"x": {"field": "x", "type": "quantitative", "title": "DNA copies per droplet"},
    "y": {"field": "v", "type": "quantitative", "title": "Uncorrelated noise (ηᵤ)"}}}
 ]
}
]
}
